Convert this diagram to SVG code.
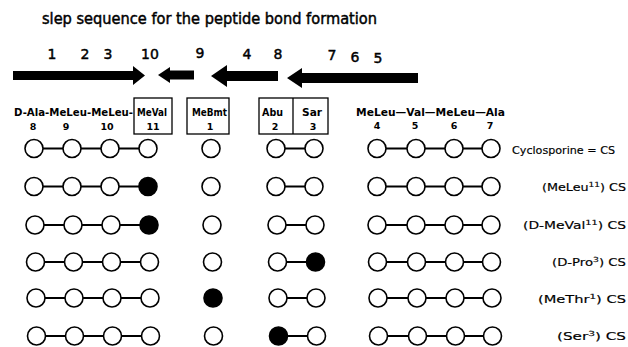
<svg xmlns="http://www.w3.org/2000/svg" width="628" height="347" viewBox="0 0 628 347">
<style>
.t{font-family:"DejaVu Sans","Liberation Sans",sans-serif;fill:#000}
.title{font-size:15px;stroke:#000;stroke-width:0.45}
.num{font-size:14px;stroke:#000;stroke-width:0.45}
.lab{font-size:10.5px;font-weight:bold}
.sm{font-size:9.5px;font-weight:bold}
.cs{font-size:10px;stroke:#000;stroke-width:0.15}
.o{fill:#fff;stroke:#000;stroke-width:1.6}
.f{fill:#000;stroke:#000;stroke-width:1.6}
.box{fill:none;stroke:#000;stroke-width:1.3}
.ln{stroke:#000;stroke-width:1.8}
.arr{fill:#000}
</style>
<rect width="628" height="347" fill="#fff"/>
<text class="t title" x="42" y="24" textLength="335" lengthAdjust="spacingAndGlyphs">slep sequence for the peptide bond formation</text>
<g id="step-numbers" class="t num" text-anchor="middle">
<text x="52" y="59">1</text><text x="85" y="59">2</text><text x="108" y="59">3</text>
<text x="150" y="59">10</text><text x="200" y="58">9</text><text x="247" y="59">4</text>
<text x="278" y="59">8</text><text x="332" y="60">7</text><text x="355" y="62">6</text><text x="378" y="63">5</text>
</g>
<g id="arrows" class="arr">
<polygon points="13,71 133,71 133,66 145,75.5 133,85 133,80 13,80"/>
<polygon points="158,75 170,67 170,70.5 194,70.5 194,79.5 170,79.5 170,83"/>
<polygon points="211,76 227,65 227,71 278,71 278,81 227,81 227,87"/>
<polygon points="287,78 302,68 302,73 418,73 418,83 302,83 302,88"/>
</g>
<g id="residue-labels" class="t">
<text class="lab" x="14" y="116" textLength="119" lengthAdjust="spacingAndGlyphs">D-Ala-MeLeu-MeLeu-</text>
<rect class="box" x="134" y="98" width="38" height="36"/>
<text class="lab" x="137" y="116" textLength="30" lengthAdjust="spacingAndGlyphs">MeVal</text>
<rect class="box" x="187" y="98" width="42" height="36"/>
<text class="lab" x="192" y="116" textLength="35" lengthAdjust="spacingAndGlyphs">MeBmt</text>
<rect class="box" x="259" y="98" width="69" height="36"/>
<line class="box" x1="293" y1="98" x2="293" y2="134"/>
<text class="lab" x="262" y="116" textLength="21" lengthAdjust="spacingAndGlyphs">Abu</text>
<text class="lab" x="302" y="116" textLength="20" lengthAdjust="spacingAndGlyphs">Sar</text>
<text class="lab" x="356" y="116" textLength="149" lengthAdjust="spacingAndGlyphs">MeLeu—Val—MeLeu—Ala</text>
<g class="sm" text-anchor="middle">
<text x="33" y="130">8</text><text x="66" y="130">9</text><text x="107" y="130">10</text><text x="153" y="130">11</text>
<text x="210" y="130">1</text><text x="275" y="130">2</text><text x="313" y="130">3</text>
<text x="377" y="129">4</text><text x="415" y="129">5</text><text x="454" y="129">6</text><text x="490" y="129">7</text>
</g>
</g>
<g id="connectors" class="ln">
<path d="M43,148.5H63M81,148.5H101M119,148.5H139M285,148.5H305M386,148.5H407M425,148.5H445M463,148.5H482"/>
<path d="M43,186.5H63M81,186.5H101M119,186.5H139M285,186.5H305M386,186.5H407M425,186.5H445M463,186.5H482"/>
<path d="M44,225H64M82,225H102M120,225H140M286,225H306M386,225H407M425,225H445M463,225H482"/>
<path d="M44.5,262H64.5M82.5,262H102.5M120.5,262H140.5M286.5,262H306.5M386.5,262H407.5M425.5,262H445.5M463.5,262H482.5"/>
<path d="M45,298H65M83,298H103M121,298H141M287,298H307M387,298H408M426,298H446M464,298H483"/>
<path d="M45.5,336H65.5M83.5,336H103.5M121.5,336H141.5M287.5,336H307.5M387.5,336H408.5M426.5,336H446.5M464.5,336H483.5"/>
</g>
<g id="row1">
<circle id="r1-8" class="o" cx="34" cy="148.5" r="9"/><circle id="r1-9" class="o" cx="72" cy="148.5" r="9"/><circle id="r1-10" class="o" cx="110" cy="148.5" r="9"/><circle id="r1-11" class="o" cx="148" cy="148.5" r="9"/>
<circle id="r1-1" class="o" cx="211" cy="148.5" r="9"/><circle id="r1-2" class="o" cx="276" cy="148.5" r="9"/><circle id="r1-3" class="o" cx="314" cy="148.5" r="9"/>
<circle id="r1-4" class="o" cx="377" cy="148.5" r="9"/><circle id="r1-5" class="o" cx="416" cy="148.5" r="9"/><circle id="r1-6" class="o" cx="454" cy="148.5" r="9"/><circle id="r1-7" class="o" cx="491" cy="148.5" r="9"/>
</g>
<g id="row2">
<circle id="r2-8" class="o" cx="34" cy="186.5" r="9"/><circle id="r2-9" class="o" cx="72" cy="186.5" r="9"/><circle id="r2-10" class="o" cx="110" cy="186.5" r="9"/><circle id="r2-11" class="f" cx="148" cy="186.5" r="9"/>
<circle id="r2-1" class="o" cx="211" cy="186.5" r="9"/><circle id="r2-2" class="o" cx="276" cy="186.5" r="9"/><circle id="r2-3" class="o" cx="314" cy="186.5" r="9"/>
<circle id="r2-4" class="o" cx="377" cy="186.5" r="9"/><circle id="r2-5" class="o" cx="416" cy="186.5" r="9"/><circle id="r2-6" class="o" cx="454" cy="186.5" r="9"/><circle id="r2-7" class="o" cx="491" cy="186.5" r="9"/>
</g>
<g id="row3">
<circle id="r3-8" class="o" cx="35" cy="225" r="9"/><circle id="r3-9" class="o" cx="73" cy="225" r="9"/><circle id="r3-10" class="o" cx="111" cy="225" r="9"/><circle id="r3-11" class="f" cx="149" cy="225" r="9"/>
<circle id="r3-1" class="o" cx="212" cy="225" r="9"/><circle id="r3-2" class="o" cx="277" cy="225" r="9"/><circle id="r3-3" class="o" cx="315" cy="225" r="9"/>
<circle id="r3-4" class="o" cx="377" cy="225" r="9"/><circle id="r3-5" class="o" cx="416" cy="225" r="9"/><circle id="r3-6" class="o" cx="454" cy="225" r="9"/><circle id="r3-7" class="o" cx="491" cy="225" r="9"/>
</g>
<g id="row4">
<circle id="r4-8" class="o" cx="35.5" cy="262" r="9"/><circle id="r4-9" class="o" cx="73.5" cy="262" r="9"/><circle id="r4-10" class="o" cx="111.5" cy="262" r="9"/><circle id="r4-11" class="o" cx="149.5" cy="262" r="9"/>
<circle id="r4-1" class="o" cx="212.5" cy="262" r="9"/><circle id="r4-2" class="o" cx="277.5" cy="262" r="9"/><circle id="r4-3" class="f" cx="315.5" cy="262" r="9"/>
<circle id="r4-4" class="o" cx="377.5" cy="262" r="9"/><circle id="r4-5" class="o" cx="416.5" cy="262" r="9"/><circle id="r4-6" class="o" cx="454.5" cy="262" r="9"/><circle id="r4-7" class="o" cx="491.5" cy="262" r="9"/>
</g>
<g id="row5">
<circle id="r5-8" class="o" cx="36" cy="298" r="9"/><circle id="r5-9" class="o" cx="74" cy="298" r="9"/><circle id="r5-10" class="o" cx="112" cy="298" r="9"/><circle id="r5-11" class="o" cx="150" cy="298" r="9"/>
<circle id="r5-1" class="f" cx="213" cy="298" r="9"/><circle id="r5-2" class="o" cx="278" cy="298" r="9"/><circle id="r5-3" class="o" cx="316" cy="298" r="9"/>
<circle id="r5-4" class="o" cx="378" cy="298" r="9"/><circle id="r5-5" class="o" cx="417" cy="298" r="9"/><circle id="r5-6" class="o" cx="455" cy="298" r="9"/><circle id="r5-7" class="o" cx="492" cy="298" r="9"/>
</g>
<g id="row6">
<circle id="r6-8" class="o" cx="36.5" cy="336" r="9"/><circle id="r6-9" class="o" cx="74.5" cy="336" r="9"/><circle id="r6-10" class="o" cx="112.5" cy="336" r="9"/><circle id="r6-11" class="o" cx="150.5" cy="336" r="9"/>
<circle id="r6-1" class="o" cx="213.5" cy="336" r="9"/><circle id="r6-2" class="f" cx="278.5" cy="336" r="9"/><circle id="r6-3" class="o" cx="316.5" cy="336" r="9"/>
<circle id="r6-4" class="o" cx="378.5" cy="336" r="9"/><circle id="r6-5" class="o" cx="417.5" cy="336" r="9"/><circle id="r6-6" class="o" cx="455.5" cy="336" r="9"/><circle id="r6-7" class="o" cx="492.5" cy="336" r="9"/>
</g>
<g id="compound-labels" class="t cs">
<text x="512" y="154" textLength="103" lengthAdjust="spacingAndGlyphs">Cyclosporine = CS</text>
<text x="542" y="191" textLength="84" lengthAdjust="spacingAndGlyphs">(MeLeu<tspan font-size="7" dy="-4">11</tspan><tspan dy="4">) CS</tspan></text>
<text x="523" y="229" textLength="103" lengthAdjust="spacingAndGlyphs">(D-MeVal<tspan font-size="7" dy="-4">11</tspan><tspan dy="4">) CS</tspan></text>
<text x="552" y="266" textLength="74" lengthAdjust="spacingAndGlyphs">(D-Pro<tspan font-size="7" dy="-4">3</tspan><tspan dy="4">) CS</tspan></text>
<text x="538" y="303" textLength="88" lengthAdjust="spacingAndGlyphs">(MeThr<tspan font-size="7" dy="-4">1</tspan><tspan dy="4">) CS</tspan></text>
<text x="557" y="340" textLength="69" lengthAdjust="spacingAndGlyphs">(Ser<tspan font-size="7" dy="-4">3</tspan><tspan dy="4">) CS</tspan></text>
</g>
</svg>
